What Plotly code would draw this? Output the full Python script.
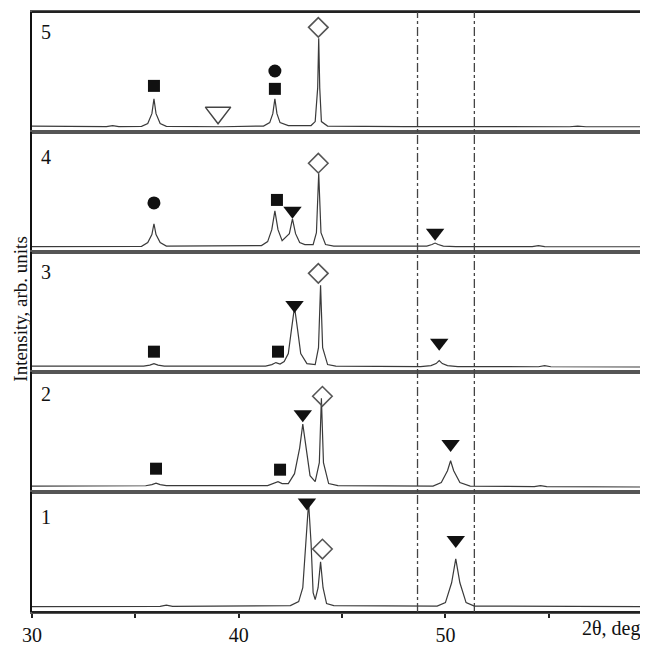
import plotly.graph_objects as go
from plotly.subplots import make_subplots

# ---- data (2theta in degrees, intensity in arb. units) ----
panel_names = ["5", "4", "3", "2", "1"]  # top to bottom

x5 = [30.0, 33.6, 33.9, 34.2, 35.3, 35.6, 35.8, 35.9, 36.0, 36.2, 36.5, 38.6, 38.9, 39.2, 41.2, 41.5, 41.65, 41.75, 41.85, 42.0, 42.4, 43.5, 43.7, 43.82, 43.87, 43.92, 44.0, 44.3, 48.0, 52.0, 56.0, 56.4, 56.8, 59.8]
y5 = [1.5, 1.0, 2.0, 1.0, 1.2, 4, 14, 29, 14, 4, 1.2, 0.8, 1.5, 0.8, 1.5, 5, 14, 29, 14, 5, 2, 2, 6, 40, 90, 40, 6, 1.5, 1.0, 0.8, 0.8, 1.5, 0.8, 0.8]

x4 = [30.0, 35.3, 35.6, 35.8, 35.9, 36.0, 36.2, 36.5, 41.1, 41.4, 41.6, 41.75, 41.9, 42.1, 42.45, 42.6, 42.75, 42.95, 43.2, 43.6, 43.76, 43.87, 43.98, 44.2, 44.6, 48.5, 49.1, 49.35, 49.5, 49.65, 49.9, 50.5, 54.2, 54.5, 54.8, 59.8]
y4 = [1.0, 1.2, 5, 13, 24, 13, 5, 1.5, 2, 6, 18, 37, 18, 7, 14, 29, 14, 5, 3, 3, 15, 75, 15, 3, 1.5, 1.0, 1.5, 3, 4.5, 3, 1.5, 1.0, 1.0, 2, 1.0, 0.8]

x3 = [30.0, 35.4, 35.7, 35.9, 36.1, 36.4, 41.3, 41.6, 41.8, 42.0, 42.2, 42.4, 42.55, 42.7, 42.85, 43.0, 43.3, 43.7, 43.86, 43.96, 44.06, 44.3, 44.7, 48.8, 49.3, 49.55, 49.7, 49.85, 50.1, 50.6, 54.5, 54.8, 55.1, 59.8]
y3 = [1.5, 1.5, 2.5, 4, 2.5, 1.5, 1.5, 3, 5, 3.5, 6, 14, 38, 61, 38, 14, 4, 3, 20, 83, 20, 3, 1.5, 1.0, 2, 4, 7, 4, 2, 1.0, 0.8, 2, 0.8, 0.5]

x2 = [30.0, 35.5, 35.8, 36.0, 36.2, 36.5, 41.4, 41.7, 41.9, 42.1, 42.4, 42.7, 42.95, 43.1, 43.25, 43.45, 43.7, 43.9, 44.0, 44.1, 44.35, 44.8, 49.4, 49.8, 50.1, 50.25, 50.4, 50.7, 51.2, 54.3, 54.6, 54.9, 59.8]
y2 = [1.5, 1.8, 3, 4.5, 3, 2, 2, 4, 6, 4, 4, 14, 40, 64, 40, 12, 6, 25, 90, 25, 4, 2, 1.5, 5, 17, 27, 17, 5, 1.5, 1.0, 2, 1.0, 0.5]

x1 = [30.0, 36.2, 36.5, 36.8, 42.5, 42.9, 43.1, 43.25, 43.38, 43.5, 43.6, 43.7, 43.84, 43.96, 44.08, 44.25, 44.6, 49.6, 50.0, 50.3, 50.5, 50.7, 51.0, 51.4, 59.8]
y1 = [1.0, 1.2, 2.5, 1.2, 2, 6, 20, 65, 106, 65, 15, 8, 20, 46, 20, 4, 2, 1.5, 5, 25, 49, 25, 5, 1.5, 1.0]

patterns = [(x5, y5), (x4, y4), (x3, y3), (x2, y2), (x1, y1)]

# phase markers: (row, symbol, x, y)
marker_row = [1, 1, 1, 1, 1,
              2, 2, 2, 2, 2,
              3, 3, 3, 3, 3,
              4, 4, 4, 4, 4,
              5, 5, 5]
marker_sym = ["square", "triangle-down-open", "square", "circle", "diamond-open",
              "circle", "square", "triangle-down", "diamond-open", "triangle-down",
              "square", "square", "triangle-down", "diamond-open", "triangle-down",
              "square", "square", "triangle-down", "diamond-open", "triangle-down",
              "triangle-down", "diamond-open", "triangle-down"]
marker_x = [35.9, 39.0, 41.75, 41.75, 43.85,
            35.9, 41.85, 42.6, 43.85, 49.5,
            35.9, 41.9, 42.7, 43.85, 49.7,
            36.0, 42.0, 43.1, 44.05, 50.25,
            43.3, 44.05, 50.5]
marker_y = [42, 15, 39, 57, 101,
            45, 48, 37, 85, 15,
            16, 16, 63, 95, 25,
            19, 18, 74, 92, 44,
            106, 59, 68]

vlines = [48.65, 51.4]
xtick_vals = [30, 35, 40, 45, 50, 55]
xtick_text = ["30", "", "40", "", "50", ""]
label_pos = [0.83, 0.79, 0.83, 0.82, 0.79]

FONT = "Liberation Serif, Times New Roman, serif"
FS = 20

fig = make_subplots(rows=5, cols=1, shared_xaxes=True, vertical_spacing=0)

for i, (xs, ys) in enumerate(patterns):
    fig.add_trace(go.Scatter(x=xs, y=ys, mode="lines",
                             line=dict(color="#3a3a3a", width=1.2),
                             showlegend=False, hoverinfo="skip"),
                  row=i + 1, col=1)

sym_style = {
    "square": dict(size=12, color="#111111"),
    "circle": dict(size=13, color="#111111"),
    "triangle-down": dict(size=16, color="#111111"),
    "diamond-open": dict(size=15, color="#555555", line=dict(width=1.6, color="#555555")),
    "triangle-down-open": dict(size=22, color="#444444", line=dict(width=1.5, color="#444444")),
}
for r, s, mx, my in zip(marker_row, marker_sym, marker_x, marker_y):
    st = dict(sym_style[s])
    fig.add_trace(go.Scatter(x=[mx], y=[my], mode="markers",
                             marker=dict(symbol=s, **st),
                             showlegend=False, hoverinfo="skip"),
                  row=r, col=1)

for i in range(5):
    last = (i == 4)
    fig.update_xaxes(range=[30, 59.8], showline=True, mirror=True,
                     linecolor="#555555", linewidth=1.5,
                     showgrid=False, zeroline=False,
                     tickvals=xtick_vals, ticktext=xtick_text,
                     ticks="outside" if last else "", ticklen=4, tickwidth=1.5,
                     tickcolor="#222222", showticklabels=last,
                     tickfont=dict(family=FONT, size=FS, color="#111111"),
                     row=i + 1, col=1)
    fig.update_yaxes(range=[-4.5, 116.5], showline=True, linecolor="#111111",
                     linewidth=2, mirror=False, showgrid=False, zeroline=False,
                     showticklabels=False, ticks="", row=i + 1, col=1)
    yref = "y domain" if i == 0 else f"y{i + 1} domain"
    xref = "x domain" if i == 0 else f"x{i + 1} domain"
    fig.add_annotation(text=panel_names[i], xref=xref, yref=yref,
                       x=0.022, y=label_pos[i], xanchor="center", yanchor="middle",
                       showarrow=False, font=dict(family=FONT, size=FS, color="#111111"))

# outer frame: darker top and bottom edges
for yy in (0, 1):
    fig.add_shape(type="line", xref="paper", yref="paper", x0=0, x1=1, y0=yy, y1=yy,
                  line=dict(color="#222222", width=2))

for v in vlines:
    fig.add_shape(type="line", xref="x", yref="paper", x0=v, x1=v, y0=0, y1=1,
                  line=dict(color="#444444", width=1.3, dash="dashdot"))

fig.add_annotation(text="Intensity, arb. units", xref="paper", yref="paper",
                   x=-0.02, y=0.505, textangle=-90, showarrow=False,
                   xanchor="center", yanchor="middle",
                   font=dict(family=FONT, size=19, color="#111111"))
fig.add_annotation(text="2θ, deg", xref="paper", yref="paper",
                   x=0.99, y=-0.027, showarrow=False,
                   xanchor="right", yanchor="middle",
                   font=dict(family=FONT, size=FS, color="#111111"))

# page body has an 8px margin, so the figure is drawn 8px smaller
fig.update_layout(width=640, height=638, plot_bgcolor="white", paper_bgcolor="white",
                  margin=dict(l=24, r=0, t=4, b=30), showlegend=False)

fig.write_html("out.html")
